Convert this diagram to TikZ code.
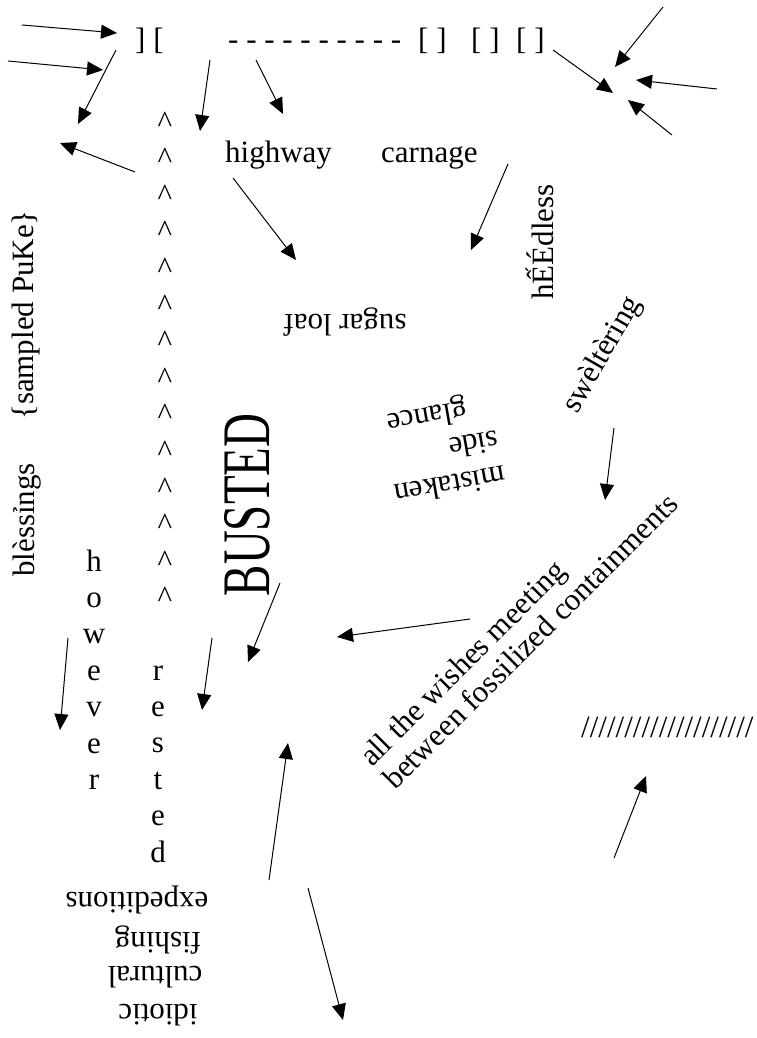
\documentclass[tikz,border=0pt]{standalone}
\usepackage{fontspec}
\setmainfont{Liberation Serif}
\usetikzlibrary{arrows.meta}
\tikzset{
  txt/.style={font=\fontsize{31}{36.6}\selectfont, inner sep=0pt},
  arr/.style={line width=1pt, -{Triangle[length=16pt,width=14pt]}},
}
\begin{document}
\begin{tikzpicture}[x=1pt,y=-1pt]
\useasboundingbox (0,0) rectangle (757,1038);
% top line
\node[txt,anchor=base west] (lb) at (135,49.5) {] [};
\node[txt,anchor=base west] (dashes) at (228,49.5) {- - - - - - - - - -};
\node[txt,anchor=base west] (b1) at (418,49.5) {[ ]};
\node[txt,anchor=base west] (b2) at (471,49.5) {[ ]};
\node[txt,anchor=base west] (b3) at (516,49.5) {[ ]};
% carets
\foreach \i in {0,...,13} \node[txt,anchor=base] (c\i) at (165,132+36.6*\i) {\textasciicircum};
% words
\node[txt,anchor=base west] (hw) at (225,162) {highway};
\node[txt,anchor=base west] (carn) at (381,162) {carnage};
\node[txt,rotate=90] (puke) at (26,315) {\{sampled PuKe\}};
\node[txt,rotate=90] (bless) at (27,520) {blèssỉngs};
\node[txt,rotate=90] (heed) at (540,242) {hẾÉdless};
\node[txt,rotate=60] (swel) at (603,355) {swèltèring};
\node[txt,rotate=180] (sugar) at (345,322) {sugar loaf};
\node[txt,rotate=190] (glance) at (427,415) {glance};
\node[txt,rotate=190] (side) at (474,445) {side};
\node[txt,rotate=190] (mist) at (450,486) {mistaken};
\node[inner sep=0pt,rotate=90] (busted) at (247,505) {\scalebox{0.69}[1]{\fontsize{68}{68}\selectfont BUSTED}};
\foreach \l [count=\i from 0] in {h,o,w,e,v,e,r} \node[txt,anchor=base] (how\i) at (94,571+36.4*\i) {\l};
\foreach \l [count=\i from 0] in {r,e,s,t,e,d} \node[txt,anchor=base] (rest\i) at (158,680+36.4*\i) {\l};
\node[txt,rotate=180] (exped) at (137,900) {expeditions};
\node[txt,rotate=180] (fish) at (158,940) {fishing};
\node[txt,rotate=180] (cult) at (155,977) {cultural};
\node[txt,rotate=180] (idiot) at (158,1015) {idiotic};
\node[txt,rotate=45,anchor=base west] (wish1) at (372,768) {all the wishes meeting};
\node[txt,rotate=45,anchor=base west] (wish2) at (395,791) {between fossilized containments};
\node[txt,anchor=base west] (slash) at (581,737) {////////////////////};
% arrows
\foreach \n/\sx/\sy/\ex/\ey in {
  1/22/25/117/33, 2/8/61/103/70, 3/116/50/78/124, 4/135/172/60/143,
  5/210/60/200/131, 6/256/60/283/114, 7/233/178/296/260, 8/508/164/471/250,
  9/663/7/615/67, 10/553/50/613/93, 11/717/89/636/80, 12/672/135/628/100,
  13/614/428/605/500, 14/470/619/337/637, 15/280/583/248/662, 16/68/638/60/730,
  17/212/638/202/710, 18/269/880/288/743, 19/308/888/343/1020, 20/614/858/646/776}
{
  \coordinate (s\n) at (\sx,\sy);
  \coordinate (e\n) at (\ex,\ey);
  \draw[arr] (s\n) -- (e\n);
}
\end{tikzpicture}
\end{document}
